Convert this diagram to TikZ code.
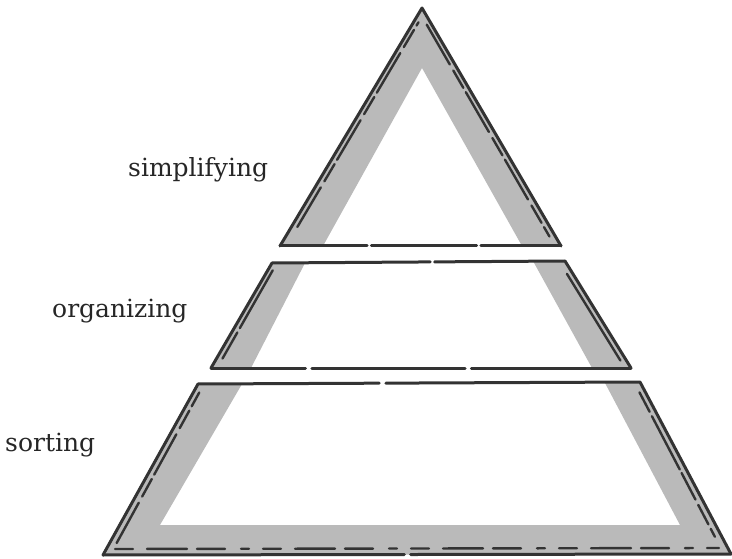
\documentclass[tikz,border=0pt]{standalone}
\usepackage{fontspec}
\setmainfont{DejaVu Serif}
\usetikzlibrary{calc}

\definecolor{ink}{HTML}{333333}
\definecolor{wash}{HTML}{BABABA}

\begin{document}
\begin{tikzpicture}[x=1pt, y=-1pt,
  outline/.style={draw=ink, line width=3pt, line join=round, line cap=round},
  band/.style={fill=wash},
  trace/.style={draw=ink, line width=2.4pt, line cap=round, dash pattern=on 46pt off 7pt on 20pt off 5pt},
  tier/.style={anchor=base west, inner sep=0pt, font=\fontsize{25}{30}\selectfont, text=black!85}
]
\useasboundingbox (0,0) rectangle (732,559);

% top tier: triangle
\coordinate (t-apex) at (422,8);
\coordinate (t-left) at (280,246);
\coordinate (t-right) at (561,246);
\coordinate (t-iapex) at (422,68);
\coordinate (t-ileft) at (323,246);
\coordinate (t-iright) at (522,246);

\fill[band] (t-left) -- (t-apex) -- (t-right) -- (t-iright) -- (t-iapex) -- (t-ileft) -- cycle;
\draw[outline] (t-left) -- (t-apex) -- (t-right);
\draw[outline] (t-left) -- ($(t-left)!0.31!(t-right)$) ($(t-left)!0.325!(t-right)$) -- ($(t-left)!0.70!(t-right)$) ($(t-left)!0.715!(t-right)$) -- (t-right);
\draw[trace] ($(t-left)!0.08!(t-apex)+(6,0)$) -- ($(t-left)!0.94!(t-apex)+(5,0)$);
\draw[trace] ($(t-apex)!0.07!(t-right)+(-5,0)$) -- ($(t-apex)!0.96!(t-right)+(-6,0)$);

% middle tier
\coordinate (m-tl) at (272,263);
\coordinate (m-tr) at (565,261);
\coordinate (m-br) at (631,368);
\coordinate (m-bl) at (211,368);

\fill[band] (m-tl) -- (305,263) -- (251,368) -- (m-bl) -- cycle;
\fill[band] (533,261) -- (m-tr) -- (m-br) -- (592,368) -- cycle;
\draw[outline] (m-bl) -- (m-tl) ($(m-tl)$) -- ($(m-tl)!0.54!(m-tr)$) ($(m-tl)!0.555!(m-tr)$) -- (m-tr) -- (m-br);
\draw[outline] (m-bl) -- ($(m-bl)!0.225!(m-br)$) ($(m-bl)!0.24!(m-br)$) -- ($(m-bl)!0.605!(m-br)$) ($(m-bl)!0.62!(m-br)$) -- (m-br);
\draw[trace, dash pattern=on 30pt off 5pt on 80pt off 4pt] ($(m-bl)!0.09!(m-tl)+(6,0)$) -- ($(m-bl)!0.93!(m-tl)+(5,0)$);
\draw[trace, solid] ($(m-tr)!0.12!(m-br)+(-6,0)$) -- ($(m-tr)!0.93!(m-br)+(-6,0)$);

% bottom tier
\coordinate (b-tl) at (198,384);
\coordinate (b-tr) at (640,382);
\coordinate (b-br) at (731,554);
\coordinate (b-bl) at (103,555);

\fill[band] (b-tl) -- (242,384) -- (160,525) -- (680,525) -- (605,383) -- (b-tr) -- (b-br) -- (b-bl) -- cycle;
\draw[outline] (b-bl) -- (b-tl) -- ($(b-tl)!0.41!(b-tr)$) ($(b-tl)!0.425!(b-tr)$) -- (b-tr) -- (b-br);
\draw[outline] (b-bl) -- ($(b-bl)!0.48!(b-br)$) ($(b-bl)!0.49!(b-br)$) -- (b-br);
\draw[trace] ($(b-bl)!0.07!(b-tl)+(7,0)$) -- ($(b-bl)!0.95!(b-tl)+(6,0)$);
\draw[trace, dash pattern=on 22pt off 5pt on 60pt off 4pt on 30pt off 6pt] ($(b-tr)!0.06!(b-br)+(-6,0)$) -- ($(b-tr)!0.9!(b-br)+(-7,0)$);
\draw[trace, dash pattern=on 18pt off 14pt on 40pt off 10pt on 28pt off 16pt on 8pt off 14pt] ($(b-bl)+(12,-6)$) -- ($(b-br)+(-12,-6)$);

% labels
\node[tier] (simplifying) at (128,177) {simplifying};
\node[tier] (organizing) at (52,317) {organizing};
\node[tier] (sorting) at (5,451) {sorting};
\end{tikzpicture}
\end{document}
